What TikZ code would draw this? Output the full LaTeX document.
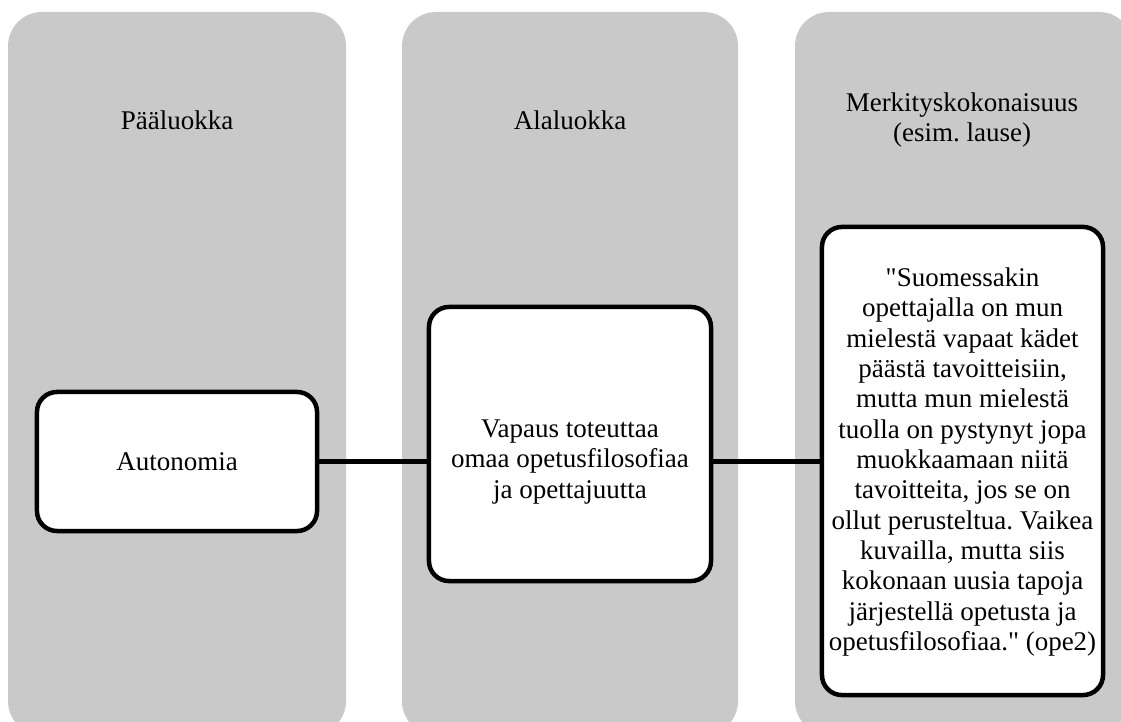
\documentclass[tikz,border=0pt]{standalone}
\usepackage{fontspec}
\setmainfont{Liberation Serif}
\frenchspacing

\begin{document}
\begin{tikzpicture}[x=0.025cm,y=-0.025cm,
    every node/.style={font=\fontsize{19.2}{21.6}\selectfont,align=center},
    column/.style={fill=black!21,rounded corners=0.85cm},
    cbox/.style={draw,line width=3.2pt,fill=white,rounded corners=0.5cm,inner sep=0pt}]
    \clip (0,0) rectangle (1121,722);

    % columns
    \fill[column] (8,12) rectangle (346,735);
    \fill[column] (402,12) rectangle (738,735);
    \fill[column] (795,12) rectangle (1133,735);

    \node (h1) at (177,120) {Pääluokka};
    \node (h2) at (570,120) {Alaluokka};
    \node (h3) at (962,120) {Merkityskokonaisuus\\(esim. lause)};

    \node[cbox,minimum width=7cm,minimum height=3.475cm] (auto) at (177,461.5) {Autonomia};
    \node[cbox,minimum width=7.05cm,minimum height=6.85cm] (vap) at (570,444) {};
    \node (vapt) at (570,462) {Vapaus toteuttaa\\omaa opetusfilosofiaa\\ja opettajuutta};
    \node[cbox,minimum width=7.025cm,minimum height=11.7cm] (lause) at (962.5,461) {};
    \node (lauset) at (962.5,462) {\textquotedbl Suomessakin\\opettajalla on mun\\mielestä vapaat kädet\\päästä tavoitteisiin,\\mutta mun mielestä\\tuolla on pystynyt jopa\\muokkaamaan niitä\\tavoitteita, jos se on\\ollut perusteltua. Vaikea\\kuvailla, mutta siis\\kokonaan uusia tapoja\\järjestellä opetusta ja\\opetusfilosofiaa.\textquotedbl{} (ope2)};

    \draw[line width=3pt] (auto.east) -- (auto.east -| vap.west);
    \draw[line width=3pt] (auto.east -| vap.east) -- (auto.east -| lause.west);
\end{tikzpicture}
\end{document}
